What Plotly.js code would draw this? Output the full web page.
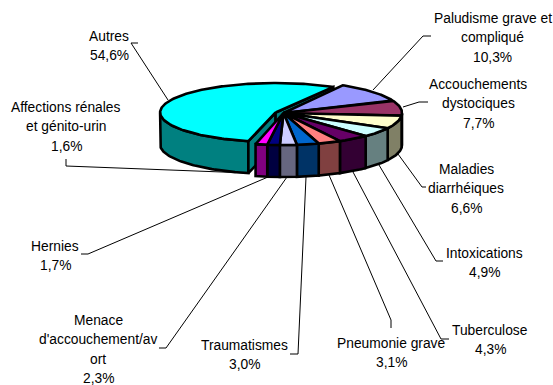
<!DOCTYPE html>
<html><head><meta charset="utf-8">
<script src="https://cdn.plot.ly/plotly-3.0.1.min.js"></script>
<style>html,body{margin:0;padding:0;background:#fff}#c{width:553px;height:385px}</style>
</head><body><div id="c"></div>
<script>
// Data, clockwise from the slice start angle
const categories = ["Paludisme grave et compliqué","Accouchements dystociques","Maladies diarrhéiques","Intoxications","Tuberculose","Pneumonie grave","Traumatismes","Menace d'accouchement/avort","Hernies","Affections rénales et génito-urin","Autres"];
const values = [10.3,7.7,6.6,4.9,4.3,3.1,3.0,2.3,1.7,1.6,54.6];
const valueLabels = ["10,3%","7,7%","6,6%","4,9%","4,3%","3,1%","3,0%","2,3%","1,7%","1,6%","54,6%"];
const labelLines = [
  ["Paludisme grave et","compliqué"],["Accouchements","dystociques"],["Maladies","diarrhéiques"],
  ["Intoxications"],["Tuberculose"],["Pneumonie grave"],["Traumatismes"],
  ["Menace","d'accouchement/av","ort"],["Hernies"],["Affections rénales","et génito-urin"],["Autres"]];

// Styles
const topColors  = ["#9999FF","#993366","#FFFFCC","#CCFFFF","#660066","#FF8080","#0066CC","#CCCCFF","#000080","#FF00FF","#00FFFF"];
const sideColors = ["#4D4D80","#4D1A33","#808066","#668080","#330033","#804040","#003366","#666680","#000040","#800080","#008080"];

// Label placement (centre x, first-line y, line step per label)
const labelX = [492.5,478,466,484,490,391,244,98,55,66,109];
const labelY = [18,84,169,253,330,343,345,320,246,107,36];
const labelStep = 19.6;
const leaders = [
  [[431,36],[423,36],[373,90]],
  [[428,102],[419,102],[403,107]],
  [[398,154],[422,187],[426,187]],
  [[379,165],[436,261],[443,261]],
  [[353,172],[441,339],[449,339]],
  [[329,175],[391,320],[391,328]],
  [[306,177],[298,354],[290,354]],
  [[287,177],[166,348],[159,348]],
  [[268,177],[88,254],[81,254]],
  [[248,173],[66,166],[66,159]],
  [[138,43],[131,43],[168,100]]];

// Pie geometry
const CX=283.5, CY=113, RX=118.5, RY=32, DEPTH=32, START=30;
const EX_CX=275.6, EX_CY=112.5, EX_RX=115.5, EX_RY=29.5; // exploded slice
const rad=d=>d*Math.PI/180;

function arc(g,a0,a1){const xs=[],ys=[];const n=Math.max(2,Math.ceil(Math.abs(a1-a0)));
  for(let i=0;i<=n;i++){const a=rad(a0+(a1-a0)*i/n);xs.push(g.cx+g.rx*Math.sin(a));ys.push(g.cy-g.ry*Math.cos(a));}return [xs,ys];}
const poly=(xs,ys,fill)=>({type:'scatter',mode:'lines',x:xs,y:ys,fill:'toself',fillcolor:fill,
  line:{color:'#000',width:2.6},hoverinfo:'skip',showlegend:false});

const total=values.reduce((a,b)=>a+b,0);
let ang=START; const spans=values.map(v=>{const s=[ang,ang+v/total*360];ang=s[1];return s;});

function wallFace(g,a0,a1,color){
  const lo=Math.max(a0,90),hi=Math.min(a1,270); if(hi<=lo) return null;
  const [x,y]=arc(g,lo,hi);
  const bx=x.slice().reverse(), by=y.slice().reverse().map(v=>v+DEPTH);
  return poly(x.concat(bx,[x[0]]),y.concat(by,[y[0]]),color);
}
function topFace(g,a0,a1,color){
  const [x,y]=arc(g,a0,a1);
  return poly([g.cx].concat(x,[g.cx]),[g.cy].concat(y,[g.cy]),color);
}
function cutFace(g,a,color){
  const ex=g.cx+g.rx*Math.sin(rad(a)),ey=g.cy-g.ry*Math.cos(rad(a));
  return poly([g.cx,ex,ex,g.cx,g.cx],[g.cy,ey,ey+DEPTH,g.cy+DEPTH,g.cy],color);
}

const main={cx:CX,cy:CY,rx:RX,ry:RY}, ex={cx:EX_CX,cy:EX_CY,rx:EX_RX,ry:EX_RY};
const traces=[];
// exploded slice (last) is painted first
const last=values.length-1, [a0,a1]=spans[last];
traces.push(wallFace(ex,a0,a1,sideColors[last]));
traces.push(cutFace(ex,a0,sideColors[last]));
traces.push(cutFace(ex,a1,sideColors[last]));
traces.push(topFace(ex,a0,a1,topColors[last]));
for(let i=0;i<last;i++){const w=wallFace(main,spans[i][0],spans[i][1],sideColors[i]); if(w)traces.push(w);}
for(let i=0;i<last;i++){traces.push(topFace(main,spans[i][0],spans[i][1],topColors[i]));}

const annotations=[];
categories.forEach((c,i)=>{
  labelLines[i].concat([valueLabels[i]]).forEach((t,k)=>{
    annotations.push({x:labelX[i],y:labelY[i]+k*labelStep,xref:'x',yref:'y',text:t,showarrow:false,
      xanchor:'center',yanchor:'middle',font:{family:'"Liberation Sans",Arial,sans-serif',size:13.8,color:'#000'}});
  });
});
const shapes=leaders.map(p=>({type:'path',layer:'below',xref:'x',yref:'y',
  path:'M'+p.map(q=>q.join(' ')).join('L'),line:{color:'#000',width:1}}));

const hidden={visible:false,fixedrange:true};
Plotly.newPlot('c',traces,{
  width:553,height:385,margin:{l:0,r:0,t:0,b:0},paper_bgcolor:'#fff',plot_bgcolor:'#fff',showlegend:false,
  xaxis:Object.assign({range:[0,553]},hidden),yaxis:Object.assign({range:[385,0]},hidden),
  annotations,shapes
},{displayModeBar:false,staticPlot:true});
</script></body></html>
